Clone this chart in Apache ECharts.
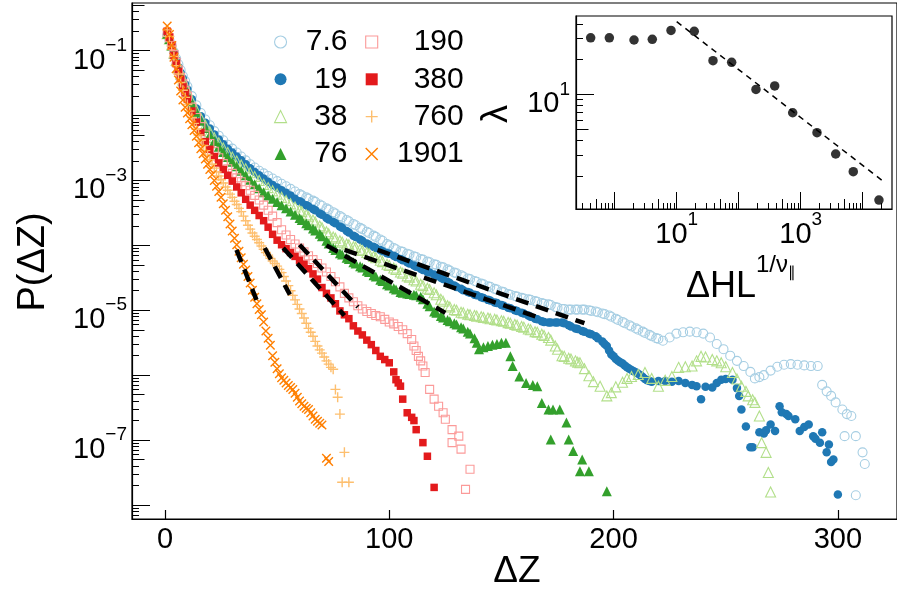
<!DOCTYPE html>
<html><head><meta charset="utf-8">
<script src="https://cdn.jsdelivr.net/npm/echarts@6/dist/echarts.min.js"></script>
<style>html,body{margin:0;padding:0;background:#fff}#c{width:897px;height:593px}</style>
</head><body><div id="c"></div>
<script>
// ---- values: [ΔZ, log10 P(ΔZ)] ----
const log10P_7_6 = [[1,-0.76],[2,-0.84],[3,-0.92],[4,-1.02],[5,-1.12],[6,-1.21],[7,-1.30],[8,-1.39],[9,-1.47],[10,-1.55],
[12,-1.70],[14,-1.84],[16,-1.96],[18,-2.06],[20,-2.15],[22,-2.24],[24,-2.31],[26,-2.38],[28,-2.45],[30,-2.51],
[32,-2.57],[34,-2.63],[36,-2.69],[38,-2.75],[40,-2.80],[42,-2.85],[44,-2.89],[46,-2.93],[48,-2.97],[50,-3.01],
[52,-3.05],[54,-3.09],[56,-3.13],[58,-3.17],[60,-3.21],[63,-3.26],[66,-3.31],[69,-3.37],[72,-3.43],[75,-3.49],
[78,-3.55],[81,-3.61],[84,-3.67],[87,-3.73],[90,-3.79],[93,-3.85],[96,-3.91],[99,-3.98],[102,-4.04],[105,-4.09],
[108,-4.13],[111,-4.17],[114,-4.21],[117,-4.25],[120,-4.29],[123,-4.33],[126,-4.37],[129,-4.42],[132,-4.46],[135,-4.51],
[138,-4.55],[141,-4.59],[144,-4.63],[147,-4.67],[150,-4.71],[153,-4.75],[156,-4.78],[159,-4.81],[162,-4.83],[165,-4.86],
[168,-4.89],[171,-4.91],[174,-4.95],[177,-4.98],[180,-4.99],[183,-4.99],[186,-4.99],[189,-5.00],[192,-5.02],[195,-5.05],
[198,-5.08],[201,-5.13],[204,-5.18],[207,-5.23],[210,-5.28],[213,-5.33],[216,-5.38],[219,-5.43],[222,-5.47],[225,-5.42],
[228,-5.36],[231,-5.34],[234,-5.33],[237,-5.34],[240,-5.36],[243,-5.42],[246,-5.52],[249,-5.60],[252,-5.70],[255,-5.78],
[258,-5.86],[261,-5.95],[263,-6.05],[265,-6.03],[267,-6.00],[270,-5.93],[273,-5.87],[276,-5.84],[279,-5.83],[282,-5.84],
[285,-5.85],[288,-5.86],[291,-5.86],[293,-6.15],[295,-6.25],[297,-6.32],[299,-6.42],[302,-6.53],[304,-6.60],[306,-6.63],
[303,-6.94],[308,-6.94],[311,-7.19],[312,-7.37],[308,-7.85],
[61,-3.23],[64,-3.28],[67,-3.33],[70,-3.39],[73,-3.45],[76,-3.51],[79,-3.57],[82,-3.63],[85,-3.69],[88,-3.75],
[91,-3.81],[94,-3.87],[97,-3.93],[100,-4.00],[103,-4.06],[106,-4.10],[109,-4.14],[112,-4.18],[115,-4.22],[118,-4.26],
[121,-4.30],[124,-4.34],[127,-4.39],[130,-4.43],[133,-4.48],[136,-4.52],[139,-4.56],[142,-4.60],[145,-4.64],[148,-4.68],
[151,-4.72],[154,-4.76],[157,-4.79],[160,-4.82],[163,-4.84],[166,-4.87],[169,-4.90],[172,-4.92],[175,-4.96],[178,-4.98],
[181,-4.99],[184,-4.99],[187,-4.99],[190,-5.01],[193,-5.03],[196,-5.06],[199,-5.10],[202,-5.15],[205,-5.20],[208,-5.25],
[211,-5.30],[214,-5.35],[217,-5.40],[220,-5.44]];

const log10P_19 = [[1,-0.75],[2,-0.82],[3,-0.90],[4,-1.03],[5,-1.14],[6,-1.25],[7,-1.34],[8,-1.43],[9,-1.52],[10,-1.60],
[12,-1.75],[14,-1.89],[16,-2.01],[18,-2.11],[20,-2.20],[22,-2.29],[24,-2.37],[26,-2.44],[28,-2.51],[30,-2.57],
[32,-2.63],[34,-2.69],[36,-2.75],[38,-2.81],[40,-2.87],[42,-2.92],[44,-2.97],[46,-3.02],[48,-3.07],[50,-3.11],
[52,-3.15],[54,-3.19],[56,-3.23],[58,-3.28],[60,-3.32],[63,-3.38],[66,-3.44],[69,-3.51],[72,-3.58],[75,-3.64],
[78,-3.71],[81,-3.78],[84,-3.85],[87,-3.91],[90,-3.97],[93,-4.02],[96,-4.07],[99,-4.12],[102,-4.16],[105,-4.21],
[108,-4.26],[111,-4.31],[114,-4.36],[117,-4.41],[120,-4.45],[123,-4.50],[126,-4.56],[129,-4.62],[132,-4.67],[135,-4.72],
[138,-4.76],[141,-4.80],[144,-4.84],[147,-4.88],[150,-4.92],[153,-4.96],[156,-5.00],[159,-5.04],[162,-5.08],[165,-5.13],
[168,-5.17],[171,-5.19],[174,-5.19],[177,-5.19],[180,-5.23],[183,-5.28],[186,-5.32],[189,-5.36],[192,-5.40],[195,-5.48],
[197,-5.55],[199,-5.68],[201,-5.75],[203,-5.80],[205,-5.85],[207,-5.90],[209,-5.94],[211,-5.98],[213,-6.03],[215,-6.08],
[217,-6.10],[220,-6.09],[223,-6.09],[226,-6.10],[229,-6.09],[232,-6.12],[235,-6.15],[237,-6.17],[239,-6.37],[241,-6.18],
[244,-6.19],[246,-6.12],[248,-6.07],[250,-6.06],[253,-6.07],[255,-6.20],[256,-6.32],[257,-6.53],[259,-6.79],[261,-7.11],
[262,-7.11],[265,-6.88],[267,-6.90],[268,-6.85],[270,-6.76],[272,-6.86],[274,-6.48],[275,-6.57],[277,-6.60],[278,-6.63],
[281,-6.68],[283,-6.86],[285,-6.80],[287,-6.76],[289,-6.94],[290,-6.98],[292,-7.04],[293,-6.88],[295,-7.19],[296,-7.07],
[297,-7.34],[298,-7.30],[300,-7.84],
[61,-3.34],[64,-3.40],[67,-3.46],[70,-3.53],[73,-3.60],[76,-3.66],[79,-3.73],[82,-3.80],[85,-3.87],[88,-3.93],
[91,-3.99],[94,-4.04],[97,-4.09],[100,-4.13],[103,-4.18],[106,-4.23],[109,-4.28],[112,-4.33],[115,-4.38],[118,-4.42],
[121,-4.47],[124,-4.52],[127,-4.58],[130,-4.64],[133,-4.69],[136,-4.73],[139,-4.77],[142,-4.81],[145,-4.85],[148,-4.89],
[151,-4.93],[154,-4.97],[157,-5.01],[160,-5.05],[163,-5.10],[166,-5.14],[169,-5.18],[172,-5.19],[175,-5.19],[178,-5.20],
[181,-5.25],[184,-5.29],[187,-5.33],[190,-5.37],[193,-5.43],[196,-5.52],[198,-5.62],[200,-5.71],[202,-5.78],[204,-5.82],
[206,-5.88],[208,-5.92],[210,-5.96],[212,-6.00],[214,-6.06],[216,-6.09]];

const log10P_38 = [[1,-0.74],[2,-0.82],[3,-0.91],[4,-1.04],[5,-1.15],[6,-1.26],[7,-1.36],[8,-1.45],[9,-1.54],[10,-1.62],
[12,-1.78],[14,-1.92],[16,-2.04],[18,-2.15],[20,-2.25],[22,-2.34],[24,-2.42],[26,-2.50],[28,-2.57],[30,-2.64],
[32,-2.70],[34,-2.76],[36,-2.82],[38,-2.88],[40,-2.94],[42,-3.00],[44,-3.06],[46,-3.11],[48,-3.16],[50,-3.21],
[52,-3.26],[54,-3.31],[56,-3.36],[58,-3.41],[60,-3.46],[63,-3.53],[66,-3.61],[69,-3.70],[72,-3.79],[75,-3.87],
[78,-3.93],[81,-3.98],[84,-4.02],[87,-4.06],[90,-4.11],[93,-4.17],[96,-4.23],[99,-4.29],[102,-4.35],[105,-4.41],
[108,-4.47],[111,-4.53],[114,-4.60],[117,-4.66],[120,-4.73],[123,-4.83],[126,-4.93],[129,-4.99],[132,-5.03],[135,-5.06],
[138,-5.08],[141,-5.10],[144,-5.12],[147,-5.14],[150,-5.16],[153,-5.19],[156,-5.22],[159,-5.25],[162,-5.29],[165,-5.33],
[168,-5.37],[171,-5.42],[174,-5.55],[177,-5.70],[180,-5.74],[183,-5.78],[185,-5.81],[187,-5.90],[189,-6.01],[191,-6.10],
[194,-6.17],[197,-6.32],[199,-6.27],[201,-6.18],[204,-6.11],[206,-6.05],[208,-6.02],[211,-5.99],[214,-5.96],[217,-6.05],
[220,-6.17],[223,-6.08],[226,-6.02],[229,-5.88],[232,-5.87],[235,-5.86],[237,-5.78],[239,-5.71],[241,-5.72],[244,-5.76],
[246,-5.78],[248,-5.81],[250,-5.87],[253,-5.96],[255,-6.06],[257,-6.17],[259,-6.25],[260,-6.32],[262,-6.38],[263,-6.42],
[265,-6.63],[266,-7.04],[268,-7.19],[269,-7.50],[270,-7.80],
[61,-3.48],[64,-3.56],[67,-3.64],[70,-3.73],[73,-3.82],[76,-3.89],[79,-3.95],[82,-3.99],[85,-4.03],[88,-4.08],
[91,-4.13],[94,-4.19],[97,-4.25],[100,-4.31],[103,-4.37],[106,-4.43],[109,-4.49],[112,-4.55],[115,-4.62],[118,-4.68],
[121,-4.76],[124,-4.86],[127,-4.95],[130,-5.00],[133,-5.04],[136,-5.07],[139,-5.09],[142,-5.11],[145,-5.13],[148,-5.15],
[151,-5.17],[154,-5.20],[157,-5.23],[160,-5.26],[163,-5.30],[166,-5.34],[169,-5.39],[172,-5.46],[175,-5.60],[178,-5.71],
[181,-5.75],[184,-5.80]];

const log10P_76 = [[1,-0.74],[2,-0.82],[3,-0.92],[4,-1.05],[5,-1.16],[6,-1.27],[7,-1.37],[8,-1.47],[9,-1.56],[10,-1.65],
[12,-1.81],[14,-1.95],[16,-2.08],[18,-2.19],[20,-2.30],[22,-2.39],[24,-2.48],[26,-2.56],[28,-2.64],[30,-2.71],
[32,-2.78],[34,-2.85],[36,-2.92],[38,-2.99],[40,-3.06],[42,-3.12],[44,-3.18],[46,-3.23],[48,-3.28],[50,-3.33],
[52,-3.38],[54,-3.43],[56,-3.48],[58,-3.53],[60,-3.58],[63,-3.66],[66,-3.74],[69,-3.82],[72,-3.93],[75,-4.04],
[78,-4.12],[81,-4.19],[84,-4.26],[87,-4.32],[90,-4.39],[93,-4.46],[96,-4.53],[99,-4.60],[102,-4.66],[105,-4.72],
[108,-4.74],[111,-4.76],[114,-4.79],[117,-4.90],[120,-5.02],[123,-5.09],[126,-5.15],[129,-5.20],[132,-5.26],[135,-5.33],
[138,-5.43],[140,-5.60],[142,-5.57],[144,-5.55],[146,-5.53],[148,-5.52],[150,-5.50],[152,-5.50],[154,-5.71],[155,-5.86],
[158,-6.02],[161,-6.12],[164,-6.15],[166,-6.17],[168,-6.43],[171,-6.53],[173,-6.53],[176,-6.53],[179,-6.73],[172,-6.99],
[180,-6.99],[182,-7.17],[185,-7.48],[186,-7.30],[189,-7.48],[197,-7.79],
[61,-3.61],[64,-3.69],[67,-3.77],[70,-3.86],[73,-3.97],[76,-4.07],[79,-4.14],[82,-4.21],[85,-4.28],[88,-4.34],
[91,-4.41],[94,-4.48],[97,-4.55],[100,-4.62],[103,-4.68],[106,-4.73],[109,-4.75],[112,-4.77],[115,-4.83],[118,-4.94],
[121,-5.04],[124,-5.11],[127,-5.17],[130,-5.22],[133,-5.28],[136,-5.36],[139,-5.50]];

const log10P_190 = [[1,-0.72],[2,-0.80],[3,-0.92],[4,-1.06],[5,-1.18],[6,-1.30],[7,-1.41],[8,-1.51],[9,-1.61],[10,-1.70],
[12,-1.87],[14,-2.03],[16,-2.17],[18,-2.30],[20,-2.43],[22,-2.55],[24,-2.65],[26,-2.74],[28,-2.82],[30,-2.89],
[32,-2.96],[34,-3.02],[36,-3.08],[38,-3.15],[40,-3.23],[42,-3.30],[44,-3.38],[46,-3.46],[48,-3.55],[50,-3.65],
[52,-3.76],[54,-3.84],[56,-3.91],[58,-3.98],[60,-4.04],[62,-4.10],[64,-4.16],[66,-4.22],[68,-4.28],[70,-4.35],
[72,-4.41],[74,-4.48],[76,-4.56],[78,-4.64],[80,-4.74],[82,-4.81],[84,-4.87],[86,-4.93],[88,-4.98],[90,-5.02],
[92,-5.05],[94,-5.08],[96,-5.10],[98,-5.14],[100,-5.18],[102,-5.21],[104,-5.25],[106,-5.30],[108,-5.36],[110,-5.45],
[111,-5.55],[112,-5.62],[113,-5.71],[114,-5.78],[115,-5.86],[116,-5.96],[118,-6.22],[120,-6.37],[122,-6.48],[124,-6.58],
[125,-6.68],[128,-6.84],[131,-6.94],[128,-7.04],[132,-7.14],[136,-7.45],[134,-7.76]];

const log10P_380 = [[1,-0.70],[2,-0.79],[3,-0.92],[4,-1.07],[5,-1.20],[6,-1.32],[7,-1.44],[8,-1.55],[9,-1.65],[10,-1.75],
[12,-1.93],[14,-2.10],[16,-2.26],[18,-2.40],[20,-2.52],[22,-2.63],[24,-2.73],[26,-2.83],[28,-2.92],[30,-3.01],
[32,-3.10],[34,-3.19],[36,-3.29],[38,-3.38],[40,-3.46],[42,-3.54],[44,-3.62],[46,-3.72],[48,-3.83],[50,-3.92],
[52,-3.99],[54,-4.05],[56,-4.11],[58,-4.17],[60,-4.23],[62,-4.29],[64,-4.36],[66,-4.44],[68,-4.52],[70,-4.65],
[72,-4.74],[74,-4.81],[76,-4.90],[78,-5.01],[80,-5.07],[82,-5.13],[84,-5.24],[86,-5.32],[88,-5.38],[90,-5.46],
[92,-5.53],[94,-5.62],[96,-5.71],[98,-5.76],[100,-5.81],[102,-5.95],[103,-6.07],[104,-6.12],[105,-6.17],[106,-6.37],
[108,-6.58],[110,-6.65],[111,-6.70],[112,-6.84],[115,-7.04],[117,-7.25],[120,-7.73]];

const log10P_760 = [[1,-0.68],[2,-0.78],[3,-0.93],[4,-1.09],[5,-1.23],[6,-1.36],[7,-1.49],[8,-1.61],[9,-1.72],[10,-1.83],
[11,-1.93],[12,-2.03],[13,-2.12],[14,-2.21],[15,-2.30],[16,-2.38],[17,-2.46],[18,-2.54],[19,-2.61],[20,-2.68],
[21,-2.75],[22,-2.81],[23,-2.87],[24,-2.93],[25,-2.99],[26,-3.04],[27,-3.10],[28,-3.15],[29,-3.21],[30,-3.26],
[31,-3.32],[32,-3.37],[33,-3.43],[34,-3.48],[35,-3.55],[36,-3.62],[37,-3.69],[38,-3.75],[39,-3.81],[40,-3.86],
[41,-3.91],[42,-3.96],[43,-4.01],[44,-4.06],[45,-4.11],[46,-4.15],[47,-4.20],[48,-4.24],[49,-4.28],[50,-4.32],
[51,-4.37],[52,-4.42],[53,-4.48],[54,-4.55],[55,-4.62],[56,-4.70],[57,-4.77],[58,-4.84],[59,-4.91],[60,-4.98],
[61,-5.05],[62,-5.12],[63,-5.20],[64,-5.28],[65,-5.34],[66,-5.40],[67,-5.48],[68,-5.55],[69,-5.61],[70,-5.66],
[71,-5.72],[72,-5.78],[73,-5.83],[74,-5.88],[75,-5.91],[76,-6.22],[77,-6.34],[78,-6.60],[80,-7.19],[79,-7.65],[82,-7.65]];

const log10P_1901 = [[1,-0.62],[2,-0.75],[3,-0.92],[4,-1.10],[5,-1.28],[6,-1.45],[7,-1.62],[8,-1.76],[9,-1.87],[10,-1.96],
[11,-2.05],[12,-2.14],[13,-2.23],[14,-2.32],[15,-2.42],[16,-2.51],[17,-2.59],[18,-2.67],[19,-2.75],[20,-2.83],
[21,-2.91],[22,-3.00],[23,-3.09],[24,-3.17],[25,-3.26],[26,-3.36],[27,-3.46],[28,-3.56],[29,-3.67],[30,-3.78],
[31,-3.89],[32,-3.99],[33,-4.09],[34,-4.19],[35,-4.29],[36,-4.38],[37,-4.48],[38,-4.58],[39,-4.69],[40,-4.80],
[41,-4.90],[42,-4.99],[43,-5.07],[44,-5.18],[45,-5.32],[46,-5.43],[47,-5.54],[48,-5.70],[49,-5.80],[50,-5.90],
[51,-5.98],[52,-6.04],[53,-6.08],[54,-6.12],[55,-6.16],[56,-6.19],[57,-6.22],[58,-6.28],[59,-6.34],[60,-6.40],
[61,-6.44],[62,-6.48],[63,-6.51],[64,-6.53],[65,-6.58],[66,-6.63],[67,-6.68],[68,-6.71],[69,-6.74],[70,-6.77],
[72,-7.28],[73,-7.33]];

// dashed fit segments: [[ΔZ1, log10P1], [ΔZ2, log10P2]]
const fitLines = [
  [[94.8,-4.07],[187,-5.20]],
  [[80.1,-4.07],[165.6,-5.10]],
  [[72,-4.00],[125,-5.04]],
  [[60,-3.99],[86,-4.95]],
  [[52.7,-4.04],[80,-5.08]],
  [[44.5,-4.04],[55.7,-4.76]],
  [[31.9,-4.07],[40.8,-4.84]]
];

// inset: ΔH L^{1/ν∥} vs λ
const insetX = [0.41,0.82,2.05,4.04,8.1,19.2,38.5,77,190,381,743,1832,3670,7050,18300];
const insetY = [30.5,30.5,29.2,29.6,35.3,34.7,19.4,18.8,11.0,11.8,6.95,4.69,3.08,2.17,1.24];
const insetFit = [[10,41.9],[22900,1.75]];

const names = ['7.6','19','38','76','190','380','760','1901'];
const mainXTicks = [0,100,200,300];
const mainYLabelTicks = [1e-1,1e-3,1e-5,1e-7];
const insetXLabelTicks = [1e1,1e3];
const insetYLabelTicks = [1e1];

// ---- styling ----
const FONT = '"Liberation Sans", Arial, sans-serif';
const colors = ['#a6cee3','#1f78b4','#b2df8a','#33a02c','#fb9a99','#e31a1c','#fdbf6f','#ff7f00'];
const symbols = ['circle','circle','triangle','triangle','rect','rect','path://M0,5L10,5M5,0L5,10','path://M0,0L10,10M0,10L10,0'];
const kind = ['open','fill','open','fill','open','fill','line','line'];
const sizes = [9,8.5,10,10,8,7.5,10,8.5];
const dataSets = [log10P_7_6,log10P_19,log10P_38,log10P_76,log10P_190,log10P_380,log10P_760,log10P_1901];

function styleFor(i){
  if (kind[i]==='fill') return {color: colors[i], borderWidth: 0, opacity: 1};
  return {color: 'rgba(0,0,0,0)', borderColor: colors[i], borderWidth: kind[i]==='line' ? 1.4 : 1.1, opacity: 1};
}
function decades(a,b){const r=[];for(let n=a;n<=b;n++)r.push(Math.pow(10,n));return r;}
function minors(a,b,ms){const r=[];for(let n=a;n<=b;n++)for(const m of ms)r.push(m*Math.pow(10,n));return r;}
const expLabel = v => {const e=Math.round(Math.log10(v));return '{b|10}{s|'+(e<0?'\u2212'+(-e):e)+'}';};
const richLab = {b:{fontSize:29,lineHeight:39,verticalAlign:'bottom',fontFamily:FONT,color:'#000'},
                 s:{fontSize:19,lineHeight:19,verticalAlign:'top',fontFamily:FONT,color:'#000'}};

const MAIN_Y = [6.07e-9, 0.543];
const INS_X = [0.2377, 29700];
const INS_Y = [1.04, 46.9];

const hidden = {axisLine:{show:false,onZero:false},axisLabel:{show:false},splitLine:{show:false}};
function tickAxis(base, vals, len){
  return Object.assign({}, base, hidden, {axisTick:{show:true,inside:true,length:len,customValues:vals,lineStyle:{color:'#000',width:1}}});
}

const yMainBase = {type:'log', gridIndex:0, min:MAIN_Y[0], max:MAIN_Y[1], position:'left', logBase:10};
const xInsBase = {type:'log', gridIndex:1, min:INS_X[0], max:INS_X[1], position:'bottom', logBase:10};
const yInsBase = {type:'log', gridIndex:1, min:INS_Y[0], max:INS_Y[1], position:'left', logBase:10};

const series = names.map((n,i)=>({
  name:n, type:'scatter', xAxisIndex:0, yAxisIndex:0,
  symbol:symbols[i], symbolSize:sizes[i], itemStyle:styleFor(i),
  silent:true, z:2,
  data: dataSets[i].map(p=>[p[0], Math.pow(10,p[1])])
}));
fitLines.forEach(seg=>series.push({
  type:'line', xAxisIndex:0, yAxisIndex:0, symbol:'none', silent:true, z:5,
  lineStyle:{color:'#000', width:4.5, type:[13,8]},
  data: seg.map(p=>[p[0], Math.pow(10,p[1])])
}));
series.push({type:'scatter', xAxisIndex:1, yAxisIndex:3, symbol:'circle', symbolSize:9.5, silent:true,
  itemStyle:{color:'#000'}, data: insetX.map((x,i)=>[x, insetY[i]])});
series.push({type:'line', xAxisIndex:1, yAxisIndex:3, symbol:'none', silent:true,
  lineStyle:{color:'#000', width:1.5, type:[6,5]}, data: insetFit});

function legendCfg(idx, left, textW){
  return {
    data: idx.map(i=>({name:names[i], itemStyle:styleFor(i)})),
    orient:'vertical', left:left, top:27, padding:0,
    itemWidth:12, itemHeight:12, itemGap:7.3, selectedMode:false,
    formatter: n=>'{r|'+n+'}',
    textStyle:{color:'#000', fontFamily:FONT, fontSize:30,
      rich:{r:{width:textW, align:'right', fontSize:30, lineHeight:30, fontFamily:FONT, color:'#000'}}}
  };
}

const chart = echarts.init(document.getElementById('c'), null, {renderer:'canvas'});
chart.setOption({
  animation:false,
  backgroundColor:'#fff',
  grid:[
    {left:132, top:3, width:766, height:516, show:true, borderColor:'#000', borderWidth:1.2, backgroundColor:'rgba(0,0,0,0)'},
    {left:576, top:16, width:316, height:193, show:true, borderColor:'#000', borderWidth:1.2, backgroundColor:'#fff'}
  ],
  xAxis:[
    {type:'value', gridIndex:0, min:-14.69, max:326.36, position:'bottom',
     axisLine:{show:true, onZero:false, lineStyle:{color:'#000', width:1.2}},
     axisTick:{show:true, inside:true, length:9, customValues:mainXTicks, lineStyle:{color:'#000',width:1.2}},
     axisLabel:{customValues:mainXTicks, margin:6, color:'#000', fontSize:29, fontFamily:FONT},
     splitLine:{show:false}},
    Object.assign({}, xInsBase, {
     axisLine:{show:true, onZero:false, lineStyle:{color:'#000', width:1.2}},
     axisTick:{show:true, inside:true, length:17, customValues:decades(0,4), lineStyle:{color:'#000',width:1}},
     axisLabel:{customValues:insetXLabelTicks, margin:1, formatter:expLabel, rich:richLab},
     splitLine:{show:false}}),
    tickAxis(xInsBase, minors(-1,4,[2,3,4,6,7,8,9]), 6),
    tickAxis(xInsBase, minors(-1,4,[5]), 10)
  ],
  yAxis:[
    Object.assign({}, yMainBase, {
     axisLine:{show:true, onZero:false, lineStyle:{color:'#000', width:1.2}},
     axisTick:{show:true, inside:true, length:18, customValues:decades(-8,-1), lineStyle:{color:'#000',width:1}},
     axisLabel:{customValues:mainYLabelTicks, margin:5, formatter:expLabel, rich:richLab, padding:[10,0,0,0]},
     splitLine:{show:false}}),
    tickAxis(yMainBase, minors(-9,0,[2,3,4,6,7,8,9]), 7),
    tickAxis(yMainBase, minors(-9,0,[5]), 12.5),
    Object.assign({}, yInsBase, {
     axisLine:{show:true, onZero:false, lineStyle:{color:'#000', width:1.2}},
     axisTick:{show:true, inside:true, length:18, customValues:decades(0,2), lineStyle:{color:'#000',width:1}},
     axisLabel:{customValues:insetYLabelTicks, margin:6, formatter:expLabel, rich:richLab, padding:[10,0,0,0]},
     splitLine:{show:false}}),
    tickAxis(yInsBase, minors(0,1,[2,3,4,6,7,8,9]), 7),
    tickAxis(yInsBase, minors(0,1,[5]), 12.5)
  ],
  legend:[ legendCfg([0,1,2,3], 274, 56), legendCfg([4,5,6,7], 365, 81) ],
  graphic:[
    {type:'text', x:34, y:262, rotation:Math.PI/2, silent:true,
     style:{text:'P(\u0394Z)', font:'38px '+FONT, fill:'#000', align:'center', verticalAlign:'middle'}},
    {type:'text', x:517, y:572, silent:true,
     style:{text:'\u0394Z', font:'37px '+FONT, fill:'#000', align:'center', verticalAlign:'middle'}},
    {type:'text', x:497, y:114, rotation:Math.PI/2, silent:true,
     style:{text:'\u03bb', font:'36px '+FONT, fill:'#000', align:'center', verticalAlign:'middle'}},
    {type:'text', x:741, y:279, silent:true,
     style:{text:'{b|\u0394HL}{s|1/\u03bd}{ss|\u2225}', align:'center', verticalAlign:'middle', fill:'#000',
       rich:{b:{fontSize:36, lineHeight:52, verticalAlign:'bottom', fontFamily:FONT, fill:'#000'},
             s:{fontSize:24, lineHeight:24, verticalAlign:'top', fontFamily:FONT, fill:'#000'},
             ss:{fontSize:15, verticalAlign:'top', padding:[12,0,0,0], fontFamily:FONT, fill:'#000'}}}}
  ],
  series: series
});
</script></body></html>
